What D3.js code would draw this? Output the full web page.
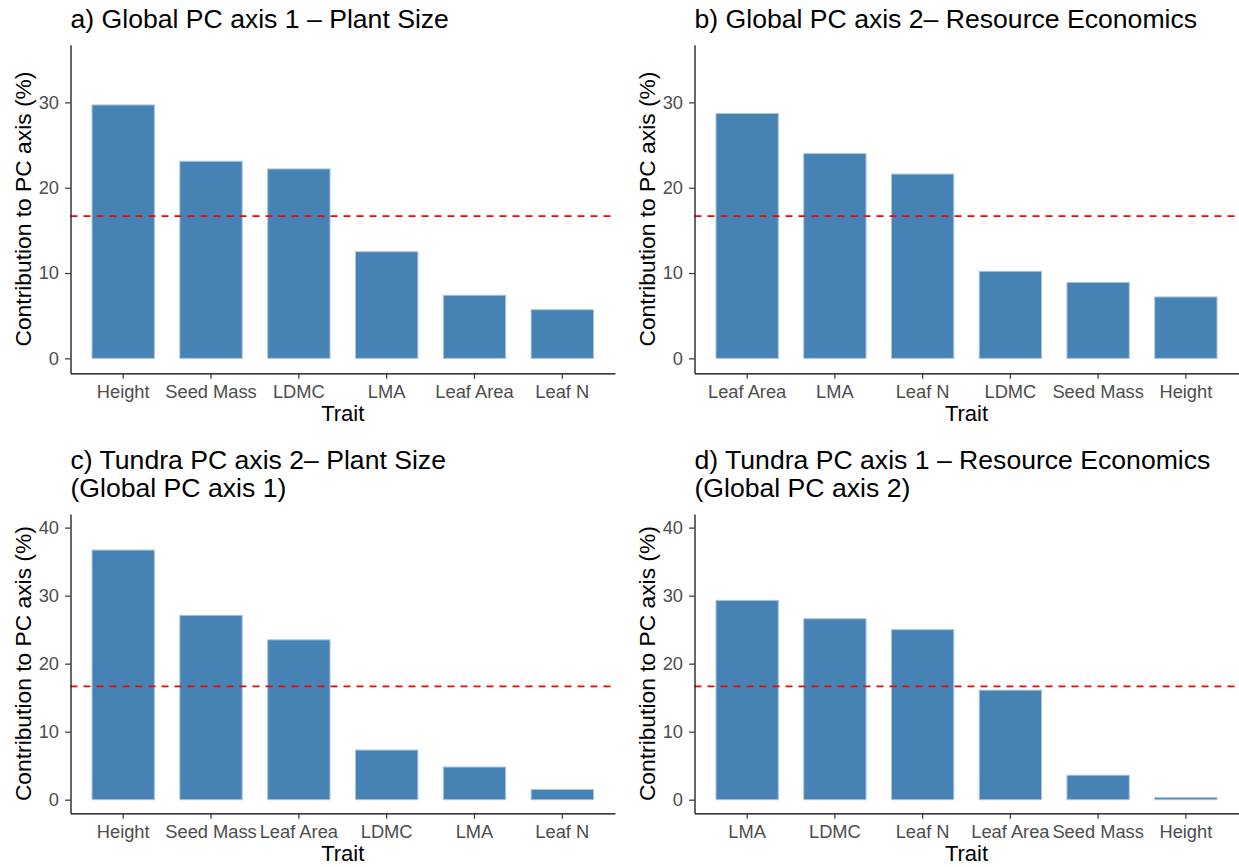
<!DOCTYPE html>
<html>
<head>
<meta charset="utf-8">
<script src="https://cdn.jsdelivr.net/npm/d3@7"></script>
<style>
  body { margin: 0; background: #fff; }
  svg { display: block; font-family: "Liberation Sans", Arial, Helvetica, sans-serif; }
</style>
</head>
<body>
<svg id="chart" width="1239" height="867"></svg>
<script>
// trait contributions (%)
const traits_a = ['Height', 'Seed Mass', 'LDMC', 'LMA', 'Leaf Area', 'Leaf N'];
const values_a = [29.7, 23.1, 22.2, 12.5, 7.4, 5.7];
const traits_b = ['Leaf Area', 'LMA', 'Leaf N', 'LDMC', 'Seed Mass', 'Height'];
const values_b = [28.7, 24.0, 21.6, 10.2, 8.9, 7.2];
const traits_c = ['Height', 'Seed Mass', 'Leaf Area', 'LDMC', 'LMA', 'Leaf N'];
const values_c = [36.7, 27.1, 23.5, 7.3, 4.8, 1.5];
const traits_d = ['LMA', 'LDMC', 'Leaf N', 'Leaf Area', 'Seed Mass', 'Height'];
const values_d = [29.3, 26.6, 25.0, 16.1, 3.6, 0.3];
const ticks_top = [0, 10, 20, 30];
const ticks_bottom = [0, 10, 20, 30, 40];
const threshold = 100 / 6; // expected contribution if all 6 traits were equal
const titles = [
  ['a) Global PC axis 1 \u2013 Plant Size'],
  ['b) Global PC axis 2\u2013 Resource Economics'],
  ['c) Tundra PC axis 2\u2013 Plant Size', '(Global PC axis 1)'],
  ['d) Tundra PC axis 1 \u2013 Resource Economics', '(Global PC axis 2)']
];

const panels = [
  {traits: traits_a, values: values_a, ticks: ticks_top, ymax: 35, title: titles[0], left: 70.5, right: 615, top: 44.8, bottom: 373.3},
  {traits: traits_b, values: values_b, ticks: ticks_top, ymax: 35, title: titles[1], left: 694.5, right: 1238.5, top: 44.8, bottom: 373.3},
  {traits: traits_c, values: values_c, ticks: ticks_bottom, ymax: 40, title: titles[2], left: 70.5, right: 615, top: 514, bottom: 813.3},
  {traits: traits_d, values: values_d, ticks: ticks_bottom, ymax: 40, title: titles[3], left: 694.5, right: 1238.5, top: 514, bottom: 813.3}
];

const svg = d3.select('#chart');

panels.forEach(function(p) {
  const g = svg.append('g');
  const x = d3.scaleBand().domain(p.traits).range([p.left, p.right])
    .paddingInner(0.29).paddingOuter(0.245);
  const pad = p.ymax * 0.05;
  const y = d3.scaleLinear().domain([-pad, p.ymax + pad]).range([p.bottom, p.top]);
  const data = p.traits.map(function(t, i) { return {trait: t, value: p.values[i]}; });

  g.selectAll('rect.bar').data(data).enter().append('rect')
    .attr('class', 'bar')
    .attr('x', function(d) { return x(d.trait); })
    .attr('width', x.bandwidth())
    .attr('y', function(d) { return y(d.value); })
    .attr('height', function(d) { return y(0) - y(d.value); })
    .attr('fill', 'steelblue')
    .attr('stroke', '#a9c5e0')
    .attr('stroke-width', 1);

  g.append('line')
    .attr('x1', p.left).attr('x2', p.right)
    .attr('y1', y(threshold)).attr('y2', y(threshold))
    .attr('stroke', 'red').attr('stroke-width', 1.7)
    .attr('stroke-dasharray', '7,6');

  const yAxis = g.append('g').attr('transform', 'translate(' + p.left + ',0)')
    .call(d3.axisLeft(y).tickValues(p.ticks).tickSize(5.5).tickSizeOuter(0).tickPadding(6));
  const xAxis = g.append('g').attr('transform', 'translate(0,' + p.bottom + ')')
    .call(d3.axisBottom(x).tickSize(5.5).tickSizeOuter(0).tickPadding(6));
  [yAxis, xAxis].forEach(function(a) {
    a.select('.domain').attr('stroke', '#000').attr('stroke-width', 1.2);
    a.selectAll('.tick line').attr('stroke', '#333').attr('stroke-width', 1.2);
    a.selectAll('.tick text').attr('fill', '#4d4d4d').style('font-size', '18.3px')
      .style('font-family', '"Liberation Sans", Arial, Helvetica, sans-serif');
  });

  g.append('text')
    .attr('x', (p.left + p.right) / 2).attr('y', p.bottom + 48)
    .attr('text-anchor', 'middle').style('font-size', '22px').text('Trait');

  g.append('text')
    .attr('transform', 'translate(' + (p.left - 39.5) + ',' + (p.top + p.bottom) / 2 + ') rotate(-90)')
    .attr('text-anchor', 'middle').style('font-size', '22.8px')
    .text('Contribution to PC axis (%)');

  const firstBaseline = p.title.length > 1 ? p.top - 45 : p.top - 17.3;
  p.title.forEach(function(line, i) {
    g.append('text')
      .attr('x', p.left).attr('y', firstBaseline + i * 28)
      .style('font-size', '26.6px').text(line);
  });
});
</script>
</body>
</html>
